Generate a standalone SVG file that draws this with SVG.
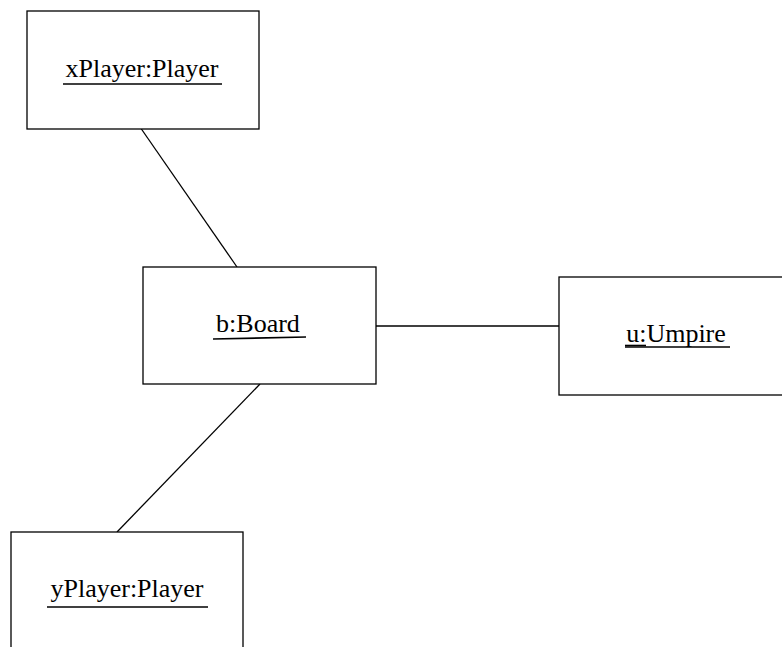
<svg xmlns="http://www.w3.org/2000/svg" width="782" height="647" viewBox="0 0 782 647">
<style>
.box{fill:#fff;stroke:#000;stroke-width:1.3}
.lbl{font-family:"Liberation Serif","Times New Roman",serif;font-size:26px;fill:#000;text-anchor:middle}
.ul{stroke:#000;stroke-width:1.6;fill:none}
.conn line{stroke:#000;stroke-width:1.3}
</style>
<rect width="782" height="647" fill="#fff"/>
<g class="conn" id="connectors">
<line x1="140" y1="127" x2="237" y2="267"/>
<line x1="376" y1="326" x2="559" y2="326"/>
<line x1="260" y1="384" x2="117" y2="532"/>
</g>
<g id="xPlayer">
<rect class="box" x="27" y="11" width="232" height="118"/>
<text class="lbl" x="142" y="77">xPlayer:Player</text>
<line class="ul" x1="63" y1="84" x2="222" y2="84"/>
</g>
<g id="board">
<rect class="box" x="143" y="267" width="233" height="117"/>
<text class="lbl" x="258" y="332">b:Board</text>
<line class="ul" x1="213" y1="339" x2="306" y2="337"/>
</g>
<g id="umpire">
<rect class="box" x="559" y="277" width="240" height="118"/>
<text class="lbl" x="676" y="342">u:Umpire</text>
<line class="ul" x1="625" y1="347" x2="730" y2="347"/>
<line class="ul" x1="625" y1="345.5" x2="646" y2="345.5"/>
</g>
<g id="yPlayer">
<rect class="box" x="11" y="532" width="232" height="130"/>
<text class="lbl" x="127" y="597">yPlayer:Player</text>
<line class="ul" x1="47" y1="607" x2="208" y2="607"/>
</g>
</svg>
